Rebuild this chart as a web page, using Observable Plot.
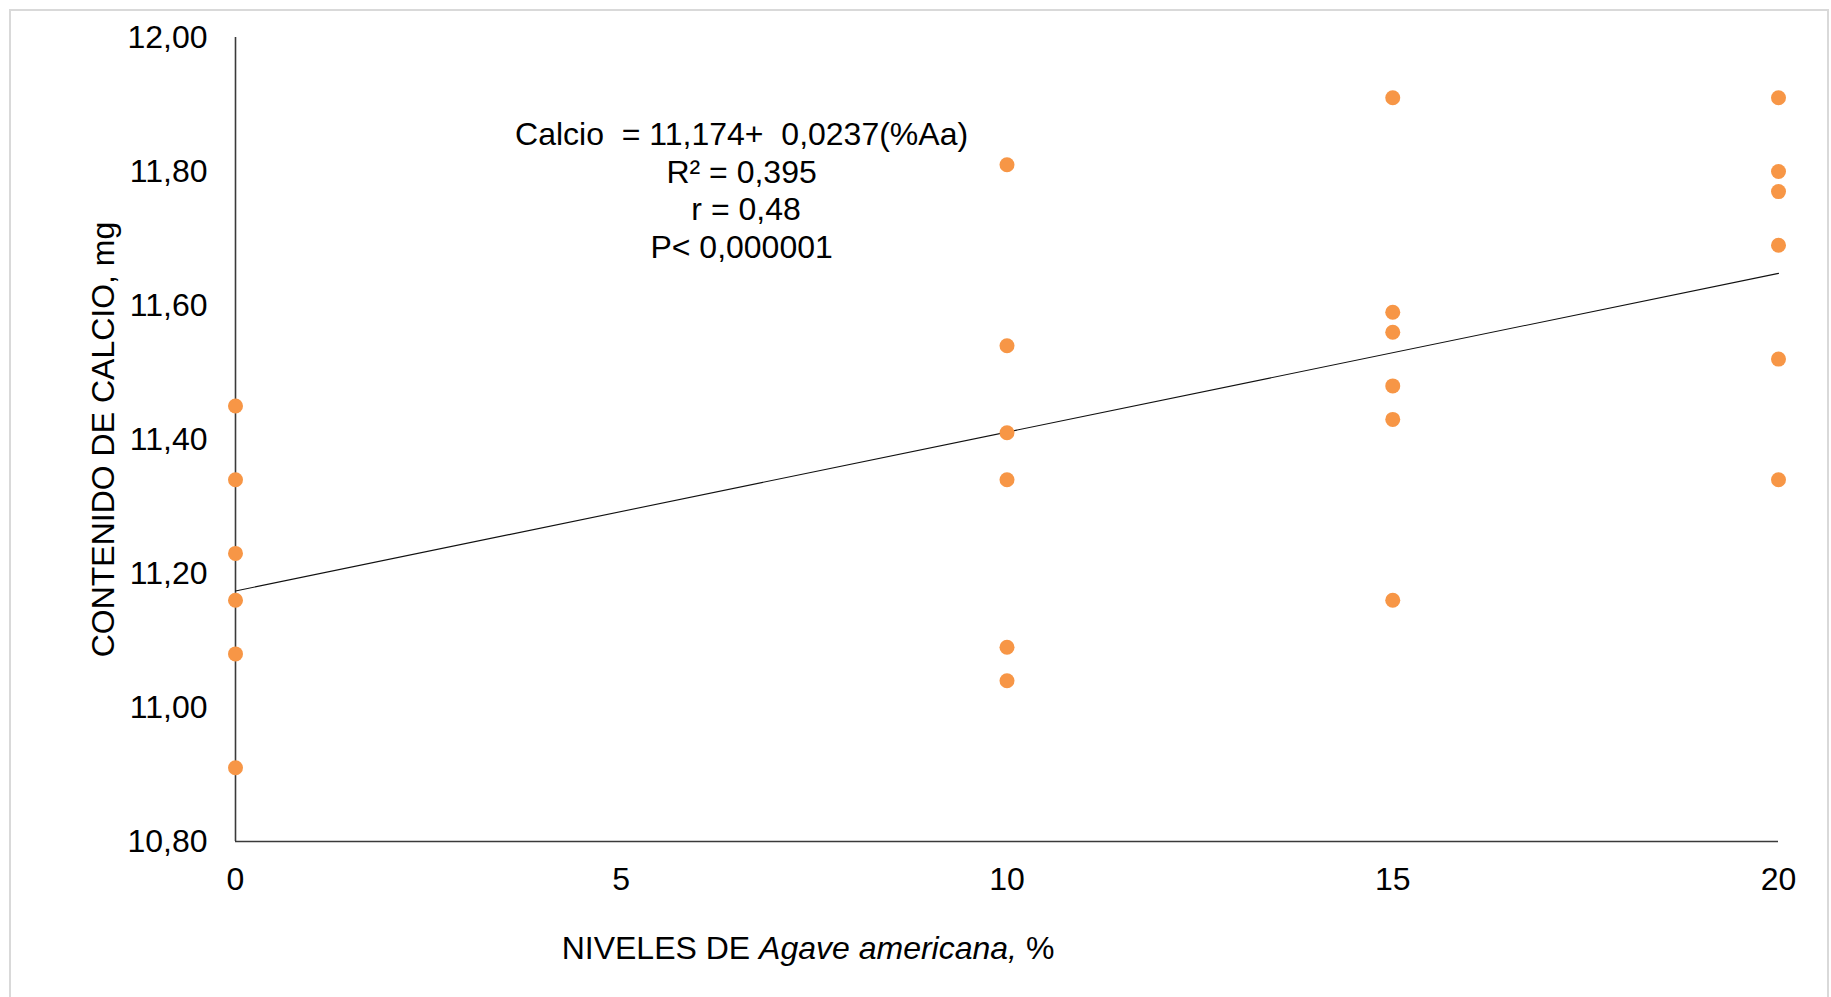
<!DOCTYPE html>
<html>
<head>
<meta charset="utf-8">
<script src="https://cdn.jsdelivr.net/npm/d3@7"></script>
<script src="https://cdn.jsdelivr.net/npm/@observablehq/plot@0.6"></script>
<style>
  html, body { margin: 0; padding: 0; background: #fff; overflow: hidden; }
  #wrap { position: relative; width: 1831px; height: 997px; }
  #border { position: absolute; left: 9px; top: 9px; width: 1816px; height: 1000px;
            border: 2px solid #d9d9d9; pointer-events: none; z-index: 2; }
  #chart { position: absolute; left: 0; top: 0; }
</style>
</head>
<body>
<div id="wrap"><div id="border"></div><div id="chart"></div></div>
<script>
// Data
const levels = [0, 10, 15, 20];
const calcio0  = [11.45, 11.34, 11.23, 11.16, 11.08, 10.91];
const calcio10 = [11.81, 11.54, 11.41, 11.34, 11.09, 11.04];
const calcio15 = [11.91, 11.59, 11.56, 11.48, 11.43, 11.16];
const calcio20 = [11.91, 11.80, 11.77, 11.69, 11.52, 11.34];
const xTicks = [0, 5, 10, 15, 20];
const yTicks = [10.8, 11.0, 11.2, 11.4, 11.6, 11.8, 12.0];
const intercept = 11.174;
const slope = 0.0237;
const annotationLines = ["Calcio\u00a0 = 11,174+\u00a0 0,0237(%Aa)", "R² = 0,395", "\u00a0r = 0,48", "P< 0,000001"];
const annotationPos = {x: 6.56, y: 11.773};

const series = [calcio0, calcio10, calcio15, calcio20];
const points = levels.flatMap((lv, i) => series[i].map(v => ({x: lv, y: v})));
const fitLine = [0, 20].map(x => ({x, y: intercept + slope * x}));
const comma = d => d.toFixed(2).replace(".", ",");

const FS = 32;
const plot = Plot.plot({
  width: 1831,
  height: 997,
  marginLeft: 235,
  marginRight: 53,
  marginTop: 37,
  marginBottom: 156,
  style: {fontFamily: "'Liberation Sans', Arial, sans-serif", fontSize: FS + "px", color: "#000", background: "transparent"},
  x: {domain: [0, 20], ticks: xTicks, tickSize: 0, tickPadding: 26, label: null, tickFormat: d => String(d)},
  y: {domain: [10.8, 12.0], ticks: yTicks, tickSize: 0, tickPadding: 28, label: null, tickFormat: comma},
  marks: [
    Plot.ruleX([0], {stroke: "#3a3a3a", strokeWidth: 1.6}),
    Plot.ruleY([10.8], {stroke: "#3a3a3a", strokeWidth: 1.6}),
    Plot.line(fitLine, {x: "x", y: "y", stroke: "#111", strokeWidth: 1.1}),
    Plot.dot(points, {x: "x", y: "y", r: 7.5, fill: "#f79646", stroke: "none"}),
    Plot.text([annotationLines.join("\n")], {x: () => annotationPos.x, y: () => annotationPos.y,
      text: d => d, textAnchor: "middle", lineHeight: 1.17, fill: "#000", fontSize: FS}),
    Plot.text(["CONTENIDO DE CALCIO, mg"], {frameAnchor: "left", textAnchor: "middle", rotate: -90, dx: -132, fill: "#000", fontSize: FS})
  ]
});
document.getElementById("chart").appendChild(plot);

// X axis title with italic species name
const svg = d3.select(plot);
const t = svg.append("text")
  .attr("x", 808).attr("y", 949).attr("dy", "0.32em")
  .attr("text-anchor", "middle")
  .attr("font-size", FS).attr("fill", "#000")
  .style("white-space", "pre");
t.append("tspan").text("NIVELES DE ");
t.append("tspan").attr("font-style", "italic").text("Agave americana,");
t.append("tspan").text(" %");
</script>
</body>
</html>
